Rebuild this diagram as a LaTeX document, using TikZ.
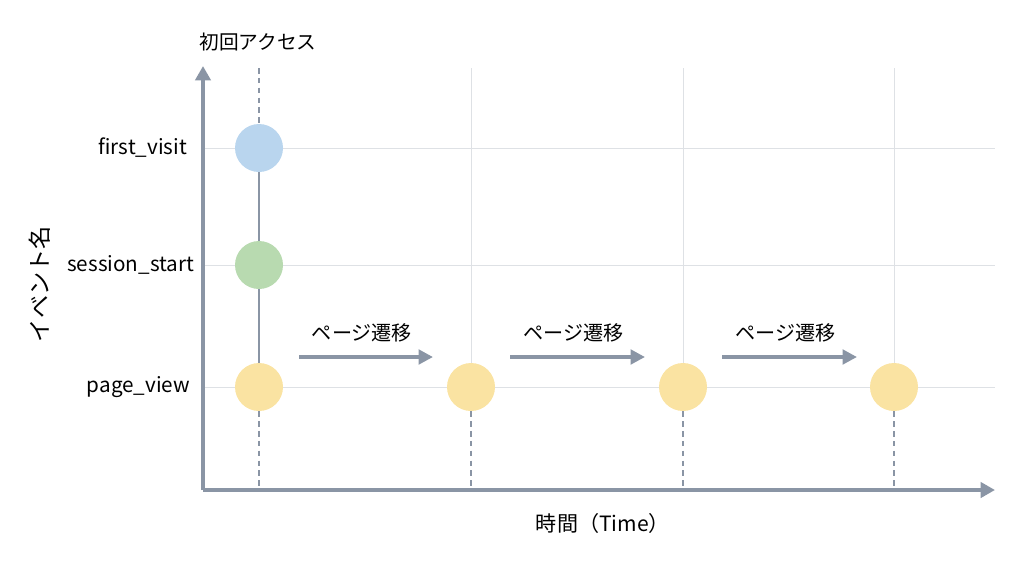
\documentclass[tikz,border=0pt]{standalone}
\usepackage{fontspec}
\setmainfont{Noto Sans CJK JP}
\usetikzlibrary{arrows.meta}
\usetikzlibrary{positioning}
\usetikzlibrary{calc}

\definecolor{axisgray}{HTML}{8A95A5}
\definecolor{gridgray}{HTML}{DEE1E5}
\definecolor{visitblue}{HTML}{B9D5EE}
\definecolor{startgreen}{HTML}{B8DAB0}
\definecolor{viewyellow}{HTML}{FAE3A2}

\tikzset{
    event/.style={circle, minimum size=48*0.025cm, inner sep=0pt},
    evlabel/.style={anchor=east, font=\fontsize{14.7}{16}\selectfont},
    gridline/.style={gridgray, line width=0.6pt},
    dashline/.style={axisgray, line width=1pt, dash pattern=on 4pt off 3pt},
    flow/.style={axisgray, line width=2.6pt, -{Triangle[length=3.6mm, width=3.6mm]}},
}

\begin{document}
\begin{tikzpicture}[x=0.025cm, y=-0.025cm]
            \useasboundingbox (0,0) rectangle (1024,572);

            % grid
            \foreach \yy in {148,265,387}
                \draw[gridline] (203,\yy) -- (995,\yy);

            % events
            \node[event, fill=visitblue] (fv) at (259,148) {};
            \node[event, fill=startgreen] (ss) at (259,265) {};
            \foreach \n/\xx in {1/259,2/471,3/683,4/894}
                \node[event, fill=viewyellow] (pv\n) at (\xx,387) {};

            \foreach \n/\xx in {2/471,3/683,4/894} {
                \coordinate (top\n) at (\xx,68);
                \coordinate (bot\n) at (\xx,490);
                \draw[gridline] (top\n) -- (pv\n.north);
                \draw[dashline] (pv\n.south) -- (bot\n);
            }
            \coordinate (top1) at (259,68);
            \coordinate (bot1) at (259,490);
            \draw[dashline] (top1) -- (fv.north);
            \draw[axisgray, line width=1.4pt] (fv.south) -- (ss.north);
            \draw[axisgray, line width=1.4pt] (ss.south) -- (pv1.north);
            \draw[dashline] (pv1.south) -- (bot1);

            % axes
            \coordinate (o) at (203,490);
            \coordinate (ytip) at (203,66);
            \coordinate (xtip) at (995,490);
            \draw[axisgray, line width=2.8pt, -{Triangle[length=3.6mm, width=3.8mm]}] (o) -- (ytip);
            \draw[axisgray, line width=2.8pt, -{Triangle[length=3.6mm, width=3.8mm]}] (o) -- (xtip);

            % labels
            \node[evlabel] (lfv) at (192,148) {first\_visit};
            \node[evlabel] (lss) at (199,265) {session\_start};
            \node[evlabel] (lpv) at (195,387) {page\_view};
            \node[font=\fontsize{16.5}{18}\selectfont, rotate=90] (yl) at (40,284) {イベント名};
            \node[font=\fontsize{15}{17}\selectfont] (xl) at (603,523) {時間（Time）};
            \node[font=\fontsize{14}{16}\selectfont] (first) at (258,42) {初回アクセス};

            % transitions
            \foreach \n/\xa/\xb in {1/299/433,2/510/645,3/722/857} {
                \coordinate (fa\n) at (\xa,357);
                \coordinate (fb\n) at (\xb,357);
                \draw[flow] (fa\n) -- (fb\n);
                \node[font=\fontsize{14.3}{16}\selectfont] (tr\n) at ($(fa\n)!0.47!(fb\n)+(0,-24)$) {ページ遷移};
            }
        \end{tikzpicture}
\end{document}
